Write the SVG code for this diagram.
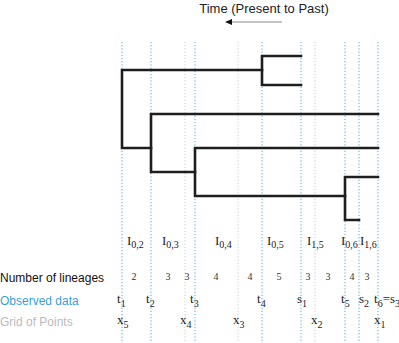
<svg xmlns="http://www.w3.org/2000/svg" width="399" height="343" viewBox="0 0 399 343">
<style>
.vb{stroke:#4aa8dc;stroke-width:1;stroke-dasharray:1.2,2;fill:none}
.vg{stroke:#c8c8c8;stroke-width:1;stroke-dasharray:1.2,2;fill:none}
.tr{stroke:#1e1e1e;stroke-width:2.6;fill:none;stroke-linecap:square}
.s{font-family:"Liberation Sans",Arial,sans-serif;font-size:12px}
.m{font-family:"Liberation Serif","Times New Roman",serif;font-size:13px;fill:#222}
.n{font-family:"Liberation Serif","Times New Roman",serif;font-size:10px;fill:#333;text-anchor:middle}
.sub{font-size:10px}
</style>
<g id="title">
<text class="s" x="264" y="13" text-anchor="middle" fill="#222" style="font-size:13px">Time (Present to Past)</text>
<line x1="282" y1="22" x2="228" y2="22" stroke="#888" stroke-width="1.2"/>
<path d="M232,19 L225,22 L232,25 Z" fill="#111"/>
</g>
<g id="gridlines">
<line class="vg" x1="185" y1="42" x2="185" y2="343"/>
<line class="vg" x1="238" y1="42" x2="238" y2="343"/>
<line class="vg" x1="315" y1="42" x2="315" y2="343"/>
<line class="vb" x1="122" y1="42" x2="122" y2="343"/>
<line class="vb" x1="151" y1="42" x2="151" y2="343"/>
<line class="vb" x1="195" y1="42" x2="195" y2="343"/>
<line class="vb" x1="262" y1="42" x2="262" y2="343"/>
<line class="vb" x1="301" y1="42" x2="301" y2="343"/>
<line class="vb" x1="345" y1="42" x2="345" y2="343"/>
<line class="vb" x1="359" y1="42" x2="359" y2="343"/>
<line class="vb" x1="378" y1="42" x2="378" y2="343"/>
</g>
<g id="tree">
<path class="tr" d="M301,56 H262 V85 H301"/>
<path class="tr" d="M262,70 H122 V148 H151"/>
<path class="tr" d="M378,114 H151 V172 H195"/>
<path class="tr" d="M378,148 H195 V196 H345"/>
<path class="tr" d="M378,177 H345 V220 H359"/>
</g>
<g id="intervals" class="m">
<text x="127" y="245">I<tspan class="sub" dy="3">0,2</tspan></text>
<text x="162" y="245">I<tspan class="sub" dy="3">0,3</tspan></text>
<text x="215" y="245">I<tspan class="sub" dy="3">0,4</tspan></text>
<text x="267" y="245">I<tspan class="sub" dy="3">0,5</tspan></text>
<text x="307" y="245">I<tspan class="sub" dy="3">1,5</tspan></text>
<text x="341" y="245">I<tspan class="sub" dy="3">0,6</tspan></text>
<text x="360" y="245">I<tspan class="sub" dy="3">1,6</tspan></text>
</g>
<g id="lineages">
<text class="s" x="0" y="282" fill="#111">Number of lineages</text>
<text class="n" x="134" y="280">2</text>
<text class="n" x="168" y="280">3</text>
<text class="n" x="187" y="280">3</text>
<text class="n" x="216" y="280">4</text>
<text class="n" x="250" y="280">4</text>
<text class="n" x="279" y="280">5</text>
<text class="n" x="308" y="280">3</text>
<text class="n" x="328" y="280">3</text>
<text class="n" x="352" y="280">4</text>
<text class="n" x="367" y="280">3</text>
</g>
<g id="observed">
<text class="s" x="0" y="305" fill="#3a9fd4">Observed data</text>
<g class="m">
<text x="117" y="303">t<tspan class="sub" dy="4">1</tspan></text>
<text x="146" y="303">t<tspan class="sub" dy="4">2</tspan></text>
<text x="190" y="303">t<tspan class="sub" dy="4">3</tspan></text>
<text x="257" y="303">t<tspan class="sub" dy="4">4</tspan></text>
<text x="297" y="303">s<tspan class="sub" dy="4">1</tspan></text>
<text x="341" y="303">t<tspan class="sub" dy="4">5</tspan></text>
<text x="359" y="303">s<tspan class="sub" dy="4">2</tspan></text>
<text x="374" y="303">t<tspan class="sub" dy="4">6</tspan><tspan dy="-4">=s</tspan><tspan class="sub" dy="4">3</tspan></text>
</g>
</g>
<g id="grid">
<text class="s" x="0" y="326" fill="#bbbbbb">Grid of Points</text>
<g class="m">
<text x="117" y="324">x<tspan class="sub" dy="4">5</tspan></text>
<text x="180" y="324">x<tspan class="sub" dy="4">4</tspan></text>
<text x="233" y="324">x<tspan class="sub" dy="4">3</tspan></text>
<text x="311" y="324">x<tspan class="sub" dy="4">2</tspan></text>
<text x="374" y="324">x<tspan class="sub" dy="4">1</tspan></text>
</g>
</g>
</svg>
